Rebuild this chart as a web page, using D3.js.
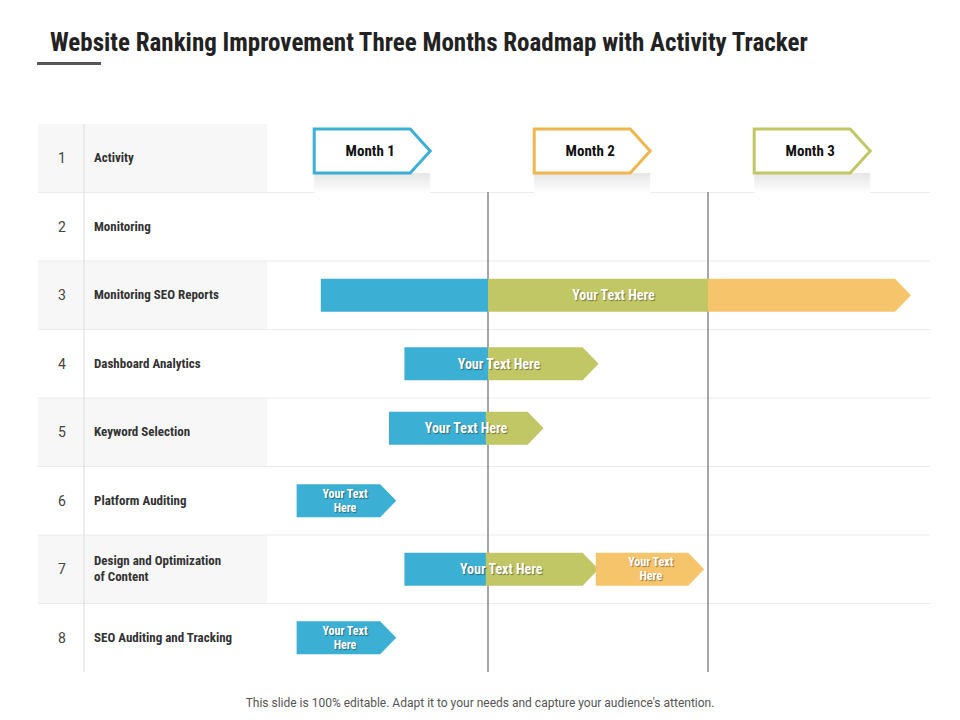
<!DOCTYPE html>
<html><head><meta charset="utf-8">
<script src="https://cdn.jsdelivr.net/npm/d3@7"></script>
<style>body{margin:0;background:#fff}svg{display:block}</style>
</head><body>
<svg id="c" width="960" height="720"></svg>
<script>
const rowNums = [1,2,3,4,5,6,7,8];
const rowLabels = ["Activity","Monitoring","Monitoring SEO Reports","Dashboard Analytics","Keyword Selection","Platform Auditing","Design and Optimization\nof Content","SEO Auditing and Tracking"];
const months = ["Month 1","Month 2","Month 3"];
const monthColors = ["#3cb0d4","#f0b64e","#c1c764"];
// segments: row index, start, end (months), color, label, arrow tip
const segRow   = [2,2,2, 3,3, 4,4, 5, 6,6,6, 7];
const segStart = [0.24,1.0,2.0, 0.62,1.0, 0.55,0.99, 0.13, 0.62,0.99,1.49, 0.13];
const segEnd   = [1.0,2.0,2.85, 1.0,1.43, 0.99,1.18, 0.51, 0.99,1.43,1.91, 0.51];
const segColor = ["#3cb0d4","#c1c764","#f6c56b", "#3cb0d4","#c1c764", "#3cb0d4","#c1c764", "#3cb0d4", "#3cb0d4","#c1c764","#f6c56b", "#3cb0d4"];
const segTip   = [0,0,1, 0,1, 0,1, 1, 0,1,1, 1];
const barLabels = [
 {row:2, at:1.57, text:["Your Text Here"], big:true},
 {row:3, at:1.05, text:["Your Text Here"], big:true},
 {row:4, at:0.9, text:["Your Text Here"], big:true},
 {row:5, at:0.35, text:["Your Text","Here"], big:false},
 {row:6, at:1.06, text:["Your Text Here"], big:true},
 {row:6, at:1.74, text:["Your Text","Here"], big:false},
 {row:7, at:0.35, text:["Your Text","Here"], big:false}
];

const svg = d3.select("#c");
const font = "'Liberation Sans Narrow','Roboto Condensed','Arial Narrow',Roboto,sans-serif";
const x = d3.scaleLinear().domain([0,3]).range([268,928]);
const y = d3.scaleBand().domain(d3.range(8)).range([124,672]);

svg.append("text").attr("x",50).attr("y",51).attr("font-family",font).attr("font-weight","bold")
  .attr("font-size",25).attr("fill","#222").text("Website Ranking Improvement Three Months Roadmap with Activity Tracker");
svg.append("rect").attr("x",37).attr("y",62).attr("width",64).attr("height",3).attr("fill","#555");

// left table
rowNums.forEach((n,i)=>{
  if(i%2===0) svg.append("rect").attr("x",38).attr("y",y(i)).attr("width",229).attr("height",y.bandwidth()).attr("fill","#f7f7f7");
  svg.append("text").attr("x",62).attr("y",y(i)+y.bandwidth()/2+5).attr("text-anchor","middle")
    .attr("font-family","Roboto,sans-serif").attr("font-size",14).attr("fill","#444").text(n);
  const lines = rowLabels[i].split("\n");
  lines.forEach((l,k)=>svg.append("text").attr("x",94)
    .attr("y",y(i)+y.bandwidth()/2+4+(k-(lines.length-1)/2)*16)
    .attr("font-family",font).attr("font-weight","bold").attr("font-size",13).attr("fill","#333").text(l));
  if(i>0) svg.append("line").attr("x1",38).attr("x2",930).attr("y1",y(i)).attr("y2",y(i)).attr("stroke","#ebebeb");
});
svg.append("line").attr("x1",84).attr("x2",84).attr("y1",124).attr("y2",672).attr("stroke","#ddd");

// month gridlines
[1,2].forEach(m=>svg.append("line").attr("x1",x(m)).attr("x2",x(m)).attr("y1",192).attr("y2",672).attr("stroke","#888").attr("stroke-width",1.5));

// month header arrows
const defs = svg.append("defs");
const g = defs.append("linearGradient").attr("id","sh").attr("x1",0).attr("x2",0).attr("y1",0).attr("y2",1);
g.append("stop").attr("offset",0).attr("stop-color","#e6e6e6");
g.append("stop").attr("offset",1).attr("stop-color","#fff");
months.forEach((m,i)=>{
  const x0 = x(i+0.21), w=96, h=44, t=20, y0=129;
  svg.append("rect").attr("x",x0).attr("y",y0+h).attr("width",w+t).attr("height",20).attr("fill","url(#sh)");
  svg.append("path").attr("d",`M${x0},${y0}H${x0+w}L${x0+w+t},${y0+h/2}L${x0+w},${y0+h}H${x0}Z`)
    .attr("fill","#fff").attr("stroke",monthColors[i]).attr("stroke-width",3);
  svg.append("text").attr("x",x0+w/2+8).attr("y",y0+h/2+5).attr("text-anchor","middle")
    .attr("font-family",font).attr("font-weight","bold").attr("font-size",15).attr("fill","#111").text(m);
});

// bars
segRow.forEach((r,i)=>{
  const h=33, yc=y(r)+y.bandwidth()/2 + (r===4?-4:(r===5||r===7?0:0));
  const y0=yc-h/2, x0=x(segStart[i]), x1=x(segEnd[i]);
  const d = segTip[i] ? `M${x0},${y0}H${x1}L${x1+16},${yc}L${x1},${y0+h}H${x0}Z`
                      : `M${x0},${y0}H${x1+0.5}V${y0+h}H${x0}Z`;
  svg.append("path").attr("d",d).attr("fill",segColor[i]);
});
barLabels.forEach(b=>{
  const yc=y(b.row)+y.bandwidth()/2 + (b.row===4?-4:0);
  b.text.forEach((t,k)=>svg.append("text").attr("x",x(b.at)).attr("text-anchor","middle")
    .attr("y",yc+ (b.big?5:4) + (k-(b.text.length-1)/2)*14)
    .attr("font-family",font).attr("font-weight","bold").attr("font-size",b.big?14:12)
    .attr("fill","#fff").style("text-shadow","1px 1px 1px rgba(0,0,0,0.4)").text(t));
});

svg.append("text").attr("x",480).attr("y",707).attr("text-anchor","middle").attr("font-family","Roboto,sans-serif")
  .attr("font-size",12).attr("fill","#555").text("This slide is 100% editable. Adapt it to your needs and capture your audience's attention.");
</script>
</body></html>
